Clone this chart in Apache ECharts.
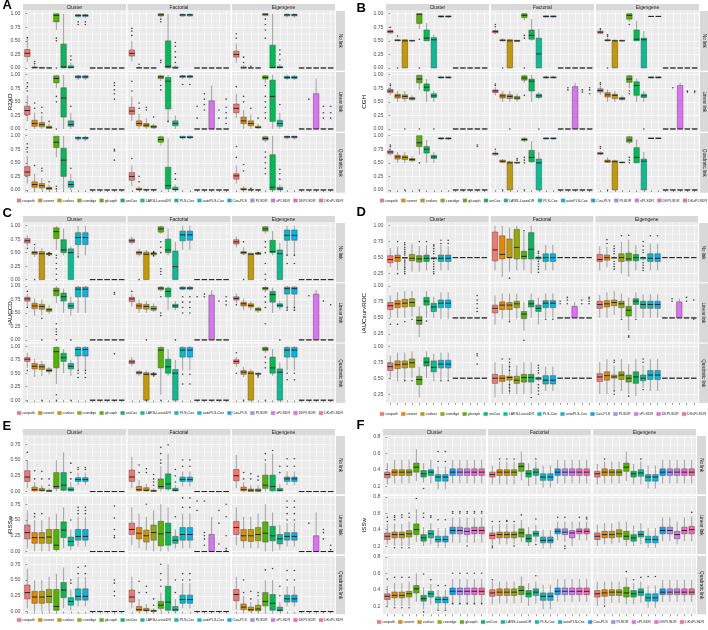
<!DOCTYPE html>
<html>
<head>
<meta charset="utf-8">
<script src="https://cdn.jsdelivr.net/npm/echarts@6.0.0/dist/echarts.min.js"></script>
<style>
  html, body { margin: 0; padding: 0; background: #fff; }
  #root { width: 708px; height: 630px; }
</style>
</head>
<body>
<div id="root"></div>
<script>
const methods = ['coxpath', 'coxnet', 'coxlars', 'coxridge', 'glcoxph', 'uniCox', 'LARS-LassoDR', 'PLS-Cox', 'autoPLS-Cox', 'Cox-PLS', 'PLSDR', 'sPLSDR', 'DKPLSDR', 'DKsPLSDR'];
const methodColors = ['#F8766D', '#E38900', '#C49A00', '#99A800', '#53B400', '#00BC56', '#00C094', '#00BFC4', '#00B6EB', '#06A4FF', '#A58AFF', '#DF70F8', '#FB61D7', '#FF66A8'];
const designs = ['Cluster', 'Factorial', 'Eigengene'];
const links = ['No link', 'Linear link', 'Quadratic link'];

const ticksUnit = [0, 0.25, 0.5, 0.75, 1];
const ticksROC = [0.25, 0.5, 0.75, 1];
const ticksRSS = [0, 0.25, 0.5, 0.75];
const ticksISS = [0.2, 0.4, 0.6, 0.8];

// one box per method: [lower whisker, Q1, median, Q3, upper whisker]
// facets: No link (Cluster, Factorial, Eigengene), Linear link (...), Quadratic link (...)
const r2xoBoxes = [
  [[0.11,0.21,0.27,0.34,0.56],[0,0,0.005,0.02,0.05],[0,0,0,0.01,0.02],[0,0,0,0,0.01],[0.7,0.85,0.97,1,1],[0,0,0.02,0.44,1],[0,0,0.01,0.04,0.1],[0.92,0.95,0.97,0.98,1],[0.92,0.95,0.97,0.98,1],[0,0,0,0,0],[0,0,0,0,0],[0,0,0,0,0],[0,0,0,0,0],[0,0,0,0,0]],
  [[0.12,0.22,0.27,0.33,0.5],[0,0,0,0.01,0.03],[0,0,0,0,0.01],[0,0,0,0,0.01],[0.93,0.96,0.98,1,1],[0,0,0.03,0.5,1],[0,0,0,0.02,0.05],[0.94,0.96,0.98,0.99,1],[0.94,0.96,0.98,0.99,1],[0,0,0,0,0],[0,0,0,0,0],[0,0,0,0,0],[0,0,0,0,0],[0,0,0,0,0]],
  [[0.1,0.2,0.25,0.31,0.45],[0,0,0,0.02,0.05],[0,0,0,0,0.01],[0,0,0,0,0.01],[0.95,0.97,0.99,1,1],[0,0,0.01,0.42,1],[0,0,0.01,0.03,0.07],[0.93,0.96,0.98,0.99,1],[0.93,0.96,0.98,0.99,1],[0,0,0,0,0],[0,0,0,0,0],[0,0,0,0,0],[0,0,0,0,0],[0,0,0,0,0]],
  [[0.14,0.26,0.34,0.42,0.62],[0,0.05,0.1,0.16,0.3],[0,0.04,0.08,0.12,0.25],[0,0.01,0.03,0.05,0.1],[0.75,0.85,0.93,0.98,1],[0,0.22,0.57,0.76,1],[0,0.05,0.08,0.15,0.3],[0.9,0.94,0.96,0.98,1],[0.9,0.94,0.96,0.98,1],[0,0,0,0,0],[0,0,0,0,0],[0,0,0,0,0],[0,0,0,0,0],[0,0,0,0,0]],
  [[0.15,0.27,0.33,0.4,0.6],[0,0.06,0.1,0.15,0.28],[0,0.04,0.07,0.1,0.2],[0,0.02,0.04,0.06,0.1],[0.88,0.93,0.96,0.98,1],[0.12,0.37,0.88,0.95,1],[0,0.06,0.1,0.15,0.25],[0.92,0.95,0.97,0.98,1],[0.92,0.95,0.97,0.98,1],[0,0,0,0,0],[0,0,0,0,0],[0,0,0,0.52,0.8],[0,0,0,0,0],[0,0,0,0,0]],
  [[0.2,0.3,0.38,0.46,0.65],[0,0.1,0.15,0.22,0.35],[0,0.06,0.1,0.15,0.27],[0,0.02,0.03,0.05,0.1],[0.85,0.92,0.95,0.98,1],[0,0.14,0.6,0.9,1],[0,0.05,0.1,0.16,0.3],[0.9,0.93,0.95,0.97,1],[0.9,0.93,0.95,0.97,1],[0,0,0,0,0],[0,0,0,0,0],[0,0,0,0.65,0.93],[0,0,0,0,0],[0,0,0,0,0]],
  [[0.12,0.26,0.33,0.43,0.63],[0,0.05,0.1,0.15,0.3],[0,0.04,0.08,0.12,0.22],[0,0.01,0.03,0.05,0.1],[0.6,0.78,0.88,0.99,1],[0,0.25,0.55,0.77,1],[0,0.05,0.1,0.16,0.3],[0.9,0.94,0.96,0.97,1],[0.9,0.94,0.96,0.97,1],[0,0,0,0,0],[0,0,0,0,0],[0,0,0,0,0],[0,0,0,0,0],[0,0,0,0,0]],
  [[0.07,0.18,0.25,0.32,0.45],[0,0,0.01,0.03,0.07],[0,0,0,0.01,0.02],[0,0,0,0.01,0.02],[0.82,0.88,0.93,0.98,1],[0,0.02,0.08,0.42,0.95],[0,0,0.01,0.05,0.1],[0.93,0.96,0.97,0.99,1],[0.93,0.96,0.97,0.99,1],[0,0,0,0,0],[0,0,0,0,0],[0,0,0,0,0],[0,0,0,0,0],[0,0,0,0,0]],
  [[0.12,0.2,0.26,0.3,0.45],[0,0,0.01,0.03,0.07],[0,0,0,0.01,0.02],[0,0,0,0,0.02],[0.88,0.92,0.95,0.98,1],[0,0,0.05,0.65,1],[0,0,0.02,0.05,0.1],[0.93,0.96,0.98,0.99,1],[0.93,0.96,0.98,0.99,1],[0,0,0,0,0],[0,0,0,0,0],[0,0,0,0,0],[0,0,0,0,0],[0,0,0,0,0]]
];
// outliers: [method index, value]
const r2xoOutliers = [
  [[0,0.56],[1,0.08],[1,0.12],[4,0.55],[4,0.5],[4,0],[6,0.15],[6,0.22],[7,0.85],[7,0.8],[8,0.85],[8,0.8]],
  [[0,0.6],[0,0.68],[0,0.73],[1,0.07],[4,0.9],[4,0.85],[4,0.1],[4,0.14],[6,0.1],[6,0.2],[6,0.3],[6,0.4],[6,0.47]],
  [[0,0.55],[0,0.63],[1,0.1],[1,0.2],[2,0.03],[4,0.9],[4,0.8],[4,0.7],[4,0.55],[6,0.15],[6,0.25],[6,0.33]],
  [[0,0.7],[0,0.78],[0,0.85],[1,0.38],[1,0.48],[2,0.3],[2,0.4],[3,0.14],[4,0.6],[4,0.5],[4,0],[6,0.42],[12,0.55],[12,0.65],[12,0.72],[12,0.8],[12,0.85]],
  [[0,0.7],[0,0.88],[1,0.38],[1,0.48],[2,0.35],[2,0.4],[3,0.22],[4,0.8],[4,0.72],[5,0.14],[7,0.82],[8,0.82],[9,0.2],[9,0.42],[10,0.35],[10,0.45],[10,0.55],[10,0.65],[12,0.2],[12,0.35],[13,0.1],[13,0.2],[13,0.3],[13,0.4],[13,0.55]],
  [[0,0.78],[1,0.5],[1,0.6],[2,0.38],[3,0.2],[4,0.8],[4,0.6],[4,0.5],[4,0.4],[4,0.3],[4,0.2],[6,0.45],[10,0.55],[12,0.2],[12,0.3],[12,0.42],[13,0.2],[13,0.3],[13,0.42]],
  [[0,0.7],[0,0.78],[0,0.85],[1,0.45],[2,0.35],[2,0.4],[3,0.15],[4,0.02],[4,0.07],[6,0.4],[12,0.55],[12,0.72],[12,0.75]],
  [[0,0.58],[1,0.15],[1,0.25],[6,0.2],[6,0.3]],
  [[0,0.6],[0,0.8],[1,0.35],[1,0.47],[2,0.03],[4,0.3],[4,0.4],[4,0.5],[4,0.6],[4,0.7],[6,0.2],[6,0.3],[6,0.38]]
];

const cghBoxes = [
  [[0.62,0.65,0.67,0.69,0.72],[0.5,0.5,0.51,0.52,0.53],[0,0,0.5,0.52,0.53],[0.49,0.5,0.5,0.51,0.52],[0.72,0.82,0.99,1,1],[0.5,0.5,0.55,0.7,0.83],[0,0,0.52,0.56,0.62],[0.92,0.94,0.95,0.96,0.97],[0.92,0.94,0.95,0.96,0.97],[0,0,0,0,0],[0,0,0,0,0],[0,0,0,0,0],[0,0,0,0,0],[0,0,0,0,0]],
  [[0.62,0.65,0.67,0.69,0.72],[0.49,0.5,0.51,0.52,0.55],[0,0,0.5,0.52,0.54],[0.48,0.49,0.5,0.51,0.52],[0.88,0.93,0.97,1,1],[0.5,0.53,0.6,0.7,0.9],[0,0,0.26,0.55,0.72],[0.93,0.94,0.95,0.96,0.97],[0.93,0.94,0.95,0.96,0.97],[0,0,0,0,0],[0,0,0,0,0],[0,0,0,0,0],[0,0,0,0,0],[0,0,0,0,0]],
  [[0.62,0.64,0.66,0.68,0.72],[0.49,0.5,0.51,0.52,0.55],[0,0,0.5,0.51,0.53],[0.49,0.5,0.5,0.51,0.52],[0.85,0.9,0.97,1,1],[0.5,0.5,0.53,0.7,0.87],[0,0,0.52,0.55,0.68],[0.94,0.95,0.95,0.95,0.96],[0.94,0.95,0.95,0.95,0.96],[0,0,0,0,0],[0,0,0,0,0],[0,0,0,0,0],[0,0,0,0,0],[0,0,0,0,0]],
  [[0.62,0.67,0.7,0.73,0.78],[0.5,0.57,0.61,0.64,0.7],[0.5,0.56,0.6,0.63,0.7],[0.52,0.54,0.56,0.58,0.62],[0.72,0.85,0.92,0.99,1],[0.5,0.7,0.77,0.83,0.92],[0.5,0.58,0.61,0.65,0.7],[0.93,0.94,0.95,0.96,0.97],[0.93,0.94,0.95,0.96,0.97],[0,0,0,0,0],[0,0,0,0,0],[0,0,0,0,0],[0,0,0,0,0],[0,0,0,0,0]],
  [[0.62,0.67,0.7,0.72,0.77],[0.5,0.57,0.61,0.64,0.7],[0.5,0.56,0.6,0.63,0.7],[0.5,0.55,0.57,0.6,0.65],[0.85,0.9,0.94,0.98,1],[0.5,0.7,0.88,0.92,1],[0.55,0.58,0.61,0.64,0.68],[0.93,0.94,0.95,0.96,0.98],[0.93,0.94,0.95,0.96,0.98],[0,0,0,0,0],[0,0,0,0,0],[0,0,0,0.78,0.85],[0,0,0,0,0],[0,0,0,0,0]],
  [[0.63,0.68,0.71,0.74,0.8],[0.5,0.59,0.63,0.67,0.73],[0.5,0.56,0.62,0.64,0.7],[0.52,0.54,0.56,0.58,0.62],[0.75,0.86,0.92,0.98,1],[0.5,0.62,0.8,0.87,0.93],[0.5,0.58,0.61,0.64,0.7],[0.93,0.94,0.95,0.96,0.97],[0.93,0.94,0.95,0.96,0.97],[0,0,0,0,0],[0,0,0,0,0],[0,0,0,0.8,0.85],[0,0,0,0,0],[0,0,0,0,0]],
  [[0.63,0.67,0.7,0.72,0.78],[0.5,0.57,0.61,0.64,0.7],[0.5,0.56,0.6,0.63,0.7],[0.52,0.54,0.56,0.58,0.62],[0.65,0.8,0.87,1,1],[0.5,0.68,0.75,0.8,0.92],[0.5,0.58,0.61,0.64,0.7],[0.92,0.94,0.95,0.96,0.97],[0.92,0.94,0.95,0.96,0.97],[0,0,0,0,0],[0,0,0,0,0],[0,0,0,0,0],[0,0,0,0,0],[0,0,0,0,0]],
  [[0.63,0.65,0.67,0.68,0.72],[0.49,0.51,0.53,0.55,0.57],[0,0,0.5,0.52,0.54],[0.49,0.5,0.5,0.51,0.52],[0.88,0.91,0.93,0.95,0.98],[0.5,0.52,0.6,0.73,0.9],[0,0,0.5,0.57,0.7],[0.93,0.94,0.95,0.96,0.97],[0.93,0.94,0.95,0.96,0.97],[0,0,0,0,0],[0,0,0,0,0],[0,0,0,0,0],[0,0,0,0,0],[0,0,0,0,0]],
  [[0.64,0.66,0.67,0.69,0.72],[0.5,0.51,0.53,0.55,0.6],[0,0,0.52,0.54,0.56],[0.49,0.5,0.51,0.51,0.52],[0.85,0.88,0.92,0.98,1],[0.5,0.5,0.6,0.78,0.93],[0,0,0.53,0.57,0.7],[0.94,0.95,0.95,0.96,0.96],[0.94,0.95,0.95,0.96,0.96],[0,0,0,0,0],[0,0,0,0,0],[0,0,0,0,0],[0,0,0,0,0],[0,0,0,0,0]]
];
const cghOutliers = [
  [[0,0.75],[1,0.59],[1,0],[4,0.53],[4,0]],
  [[0,0.76],[0,0.8],[1,0],[4,0.55],[4,0.6],[4,0]],
  [[0,0.72],[1,0.58],[1,0.61],[1,0],[4,0.8]],
  [[0,0.8],[0,0.83],[2,0],[4,0],[6,0]],
  [[0,0.8],[0,0.83],[2,0],[4,0.62],[6,0],[10,0.72],[10,0.76],[12,0.68],[12,0.72],[13,0.65],[13,0.72],[13,0.76]],
  [[0,0.82],[0,0.85],[4,0.65],[4,0.7],[6,0],[10,0.76],[12,0.68],[12,0.7],[13,0.68],[13,0.7]],
  [[0,0.8],[0,0.83],[2,0],[4,0.5],[4,0],[12,0.8],[12,0.83]],
  [[0,0.75],[1,0],[3,0.55],[3,0.58],[4,0.5],[4,0.55],[4,0.6],[4,0]],
  [[0,0.77],[0,0.8],[1,0],[4,0.5],[4,0.55],[4,0.6]]
];

const iauccdBoxes = [
  [[0.62,0.68,0.72,0.76,0.82],[0.42,0.47,0.5,0.52,0.6],[0,0,0.48,0.52,0.58],[0.45,0.46,0.48,0.49,0.5],[0.55,0.76,0.89,0.96,1],[0.45,0.5,0.55,0.74,0.95],[0,0,0.5,0.57,0.62],[0.42,0.65,0.78,0.87,1],[0.45,0.65,0.78,0.87,1],[0,0,0,0,0],[0,0,0,0,0],[0,0,0,0,0],[0,0,0,0,0],[0,0,0,0,0]],
  [[0.65,0.69,0.72,0.75,0.8],[0.43,0.47,0.5,0.52,0.57],[0,0,0.47,0.51,0.55],[0.44,0.46,0.48,0.5,0.52],[0.85,0.88,0.94,0.98,1],[0.45,0.5,0.55,0.75,0.95],[0,0,0.24,0.53,0.7],[0.55,0.72,0.83,0.9,1],[0.55,0.73,0.83,0.9,1],[0,0,0,0,0],[0,0,0,0,0],[0,0,0,0,0],[0,0,0,0,0],[0,0,0,0,0]],
  [[0.6,0.66,0.7,0.74,0.8],[0.45,0.48,0.5,0.52,0.6],[0,0,0.47,0.49,0.5],[0.46,0.47,0.48,0.5,0.51],[0.85,0.9,0.94,0.98,1],[0.45,0.5,0.52,0.73,0.9],[0,0,0.48,0.55,0.68],[0.45,0.73,0.82,0.92,1],[0.45,0.73,0.82,0.92,1],[0,0,0,0,0],[0,0,0,0,0],[0,0,0,0,0],[0,0,0,0,0],[0,0,0,0,0]],
  [[0.6,0.72,0.76,0.79,0.85],[0.45,0.58,0.63,0.68,0.77],[0.45,0.57,0.62,0.66,0.75],[0.48,0.53,0.56,0.58,0.65],[0.68,0.82,0.91,0.96,1],[0.5,0.72,0.8,0.87,0.95],[0.45,0.58,0.63,0.68,0.8],[0.5,0.8,0.94,0.98,1],[0.5,0.8,0.94,0.98,1],[0,0,0,0,0],[0,0,0,0,0],[0,0,0,0,0],[0,0,0,0,0],[0,0,0,0,0]],
  [[0.62,0.71,0.76,0.79,0.85],[0.5,0.58,0.63,0.67,0.75],[0.5,0.57,0.62,0.66,0.72],[0.52,0.55,0.58,0.62,0.68],[0.9,0.93,0.96,0.98,1],[0.55,0.8,0.9,0.96,1],[0.55,0.6,0.63,0.66,0.72],[0.92,0.94,0.96,0.98,1],[0.92,0.94,0.96,0.98,1],[0,0,0,0,0],[0,0,0,0,0],[0,0,0,0.83,0.92],[0,0,0,0,0],[0,0,0,0,0]],
  [[0.68,0.74,0.77,0.8,0.86],[0.55,0.63,0.67,0.7,0.77],[0.55,0.61,0.64,0.67,0.72],[0.5,0.54,0.57,0.59,0.62],[0.88,0.93,0.96,0.97,1],[0.5,0.7,0.84,0.9,0.97],[0.55,0.61,0.64,0.67,0.72],[0.55,0.85,0.95,0.98,1],[0.55,0.85,0.95,0.98,1],[0,0,0,0,0],[0,0,0,0,0],[0,0,0,0.85,0.93],[0,0,0,0,0],[0,0,0,0,0]],
  [[0.6,0.72,0.76,0.79,0.88],[0.43,0.58,0.63,0.68,0.77],[0.45,0.57,0.62,0.66,0.73],[0.48,0.53,0.55,0.58,0.62],[0.3,0.6,0.9,0.98,1],[0.5,0.72,0.79,0.87,0.95],[0.45,0.58,0.63,0.68,0.75],[0.55,0.82,0.94,0.98,1],[0.55,0.82,0.94,0.98,1],[0,0,0,0,0],[0,0,0,0,0],[0,0,0,0,0],[0,0,0,0,0],[0,0,0,0,0]],
  [[0.63,0.68,0.71,0.74,0.8],[0.45,0.49,0.51,0.53,0.56],[0,0,0.48,0.51,0.55],[0.45,0.47,0.48,0.5,0.52],[0.1,0.6,0.93,0.98,1],[0.45,0.5,0.62,0.76,0.95],[0,0,0.5,0.57,0.75],[0.55,0.8,0.93,0.98,1],[0.55,0.8,0.93,0.98,1],[0,0,0,0,0],[0,0,0,0,0],[0,0,0,0,0],[0,0,0,0,0],[0,0,0,0,0]],
  [[0.62,0.68,0.72,0.75,0.8],[0.43,0.48,0.52,0.55,0.62],[0,0,0.5,0.53,0.58],[0.46,0.48,0.49,0.5,0.52],[0.88,0.92,0.95,0.98,1],[0.45,0.5,0.6,0.8,0.95],[0,0,0.52,0.58,0.7],[0.55,0.8,0.93,0.98,1],[0.55,0.8,0.93,0.98,1],[0,0,0,0,0],[0,0,0,0,0],[0,0,0,0,0],[0,0,0,0,0],[0,0,0,0,0]]
];
const iauccdOutliers = [
  [[0,0.58],[1,0.65],[1,0],[3,0.45],[3,0.5],[4,0],[4,0.1],[4,0.2],[4,0.3],[4,0.4],[4,0.45],[7,0.42]],
  [[1,0],[3,0.44],[3,0.5],[3,0.52],[4,0.1],[4,0.15],[4,0.2],[4,0.5],[4,0.6],[4,0.7]],
  [[1,0.7],[1,0],[3,0.5],[4,0],[4,0.1],[4,0.3],[4,0.5],[4,0.6],[4,0.7],[7,0.3],[7,0.45],[8,0.3],[8,0.45]],
  [[0,0.9],[0,0.6],[2,0.4],[2,0],[4,0],[4,0.1],[4,0.15],[4,0.2],[4,0.3],[6,0],[12,0.85],[12,0.88]],
  [[0,0.9],[2,0],[4,0.45],[4,0.5],[4,0.8],[6,0],[7,0.5],[7,0.6],[7,0.7],[7,0.8],[8,0.5],[8,0.6],[8,0.7],[8,0.8],[9,0.8],[10,0.8],[10,0.85],[12,0.72],[13,0.65],[13,0.72],[13,0.8]],
  [[0,0.65],[4,0.3],[4,0.6],[4,0.7],[4,0.8],[6,0],[7,0.55],[7,0.6],[8,0.55],[8,0.6],[10,0.82],[12,0.72],[13,0.65]],
  [[0,0.55],[2,0],[4,0.1],[4,0],[6,0],[7,0.42],[7,0.5],[7,0.55],[8,0.42],[8,0.5],[8,0.55],[12,0.86]],
  [[2,0],[3,0.45],[3,0.5],[4,0],[7,0.3],[7,0.48],[8,0.3],[8,0.48]],
  [[0,0.88],[0,0.5],[1,0],[3,0.43],[3,0.46],[4,0],[4,0.6],[4,0.7],[4,0.8],[7,0.38],[7,0.5],[8,0.38],[8,0.5]]
];

const iaucSurvBoxes = [
  [[0.35,0.42,0.47,0.53,0.65],[0.3,0.44,0.5,0.54,0.67],[0.48,0.49,0.5,0.5,0.51],[0.28,0.45,0.49,0.55,0.72],[0.28,0.43,0.48,0.53,0.68],[0.3,0.44,0.49,0.54,0.7],[0.46,0.48,0.49,0.5,0.52],[0.3,0.44,0.49,0.54,0.7],[0.3,0.44,0.49,0.54,0.68],[0.5,0.5,0.5,0.5,0.5],[0.5,0.5,0.5,0.5,0.5],[0.5,0.5,0.5,0.5,0.5],[0.5,0.5,0.5,0.5,0.5],[0.5,0.5,0.5,0.5,0.5]],
  [[0.3,0.45,0.62,0.9,1],[0.2,0.48,0.55,0.84,1],[0.28,0.5,0.5,0.79,0.97],[0.3,0.48,0.66,0.94,1],[0.3,0.48,0.52,0.6,0.9],[0.25,0.48,0.63,0.89,1],[0.45,0.48,0.5,0.51,0.55],[0.3,0.44,0.5,0.56,0.7],[0.3,0.44,0.5,0.56,0.7],[0.5,0.5,0.5,0.5,0.5],[0.5,0.5,0.5,0.5,0.5],[0.5,0.5,0.5,0.5,0.5],[0.5,0.5,0.5,0.5,0.5],[0.5,0.5,0.5,0.5,0.5]],
  [[0.3,0.44,0.47,0.55,0.68],[0.35,0.46,0.5,0.54,0.67],[0.48,0.49,0.5,0.5,0.52],[0.25,0.44,0.5,0.56,0.75],[0.2,0.45,0.48,0.57,0.78],[0.3,0.45,0.5,0.55,0.7],[0.45,0.48,0.5,0.5,0.52],[0.3,0.44,0.49,0.56,0.72],[0.3,0.44,0.49,0.56,0.72],[0.5,0.5,0.5,0.5,0.5],[0.5,0.5,0.5,0.5,0.5],[0.5,0.5,0.5,0.5,0.5],[0.5,0.5,0.5,0.5,0.5],[0.5,0.5,0.5,0.5,0.5]],
  [[0.5,0.63,0.69,0.74,0.85],[0.5,0.66,0.72,0.77,0.9],[0.5,0.67,0.73,0.79,0.92],[0.52,0.68,0.74,0.8,0.92],[0.2,0.4,0.46,0.52,0.68],[0.5,0.7,0.76,0.82,0.92],[0.5,0.6,0.67,0.73,0.83],[0.48,0.66,0.73,0.78,0.9],[0.48,0.66,0.73,0.78,0.9],[0.5,0.5,0.5,0.5,0.5],[0.5,0.5,0.5,0.5,0.5],[0.5,0.5,0.5,0.5,0.5],[0.5,0.5,0.5,0.5,0.5],[0.5,0.5,0.5,0.5,0.5]],
  [[0.4,0.58,0.65,0.7,0.85],[0.48,0.63,0.7,0.75,0.88],[0.45,0.63,0.7,0.74,0.88],[0.48,0.66,0.72,0.76,0.88],[0.3,0.49,0.56,0.6,0.75],[0.5,0.67,0.72,0.77,0.88],[0.4,0.6,0.65,0.7,0.82],[0.5,0.66,0.73,0.77,0.88],[0.5,0.66,0.73,0.77,0.88],[0.5,0.5,0.5,0.5,0.5],[0.5,0.5,0.5,0.5,0.5],[0.5,0.5,0.5,0.68,0.75],[0.5,0.5,0.5,0.5,0.5],[0.5,0.5,0.5,0.5,0.5]],
  [[0.5,0.65,0.71,0.76,0.86],[0.5,0.67,0.72,0.77,0.9],[0.55,0.69,0.74,0.78,0.92],[0.5,0.66,0.72,0.76,0.88],[0.3,0.53,0.62,0.68,0.82],[0.5,0.71,0.76,0.8,0.9],[0.5,0.65,0.71,0.76,0.87],[0.5,0.65,0.71,0.76,0.87],[0.5,0.65,0.71,0.76,0.87],[0.5,0.5,0.5,0.5,0.5],[0.5,0.5,0.5,0.5,0.5],[0.5,0.5,0.5,0.75,0.8],[0.5,0.5,0.5,0.5,0.5],[0.5,0.5,0.5,0.5,0.5]],
  [[0.48,0.62,0.68,0.74,0.85],[0.45,0.65,0.71,0.77,0.9],[0.45,0.66,0.72,0.77,0.9],[0.5,0.67,0.74,0.8,0.92],[0.2,0.4,0.48,0.53,0.68],[0.5,0.69,0.75,0.82,0.92],[0.45,0.6,0.67,0.77,0.88],[0.47,0.66,0.72,0.78,0.9],[0.47,0.66,0.72,0.78,0.9],[0.5,0.5,0.5,0.5,0.5],[0.5,0.5,0.5,0.5,0.5],[0.5,0.5,0.5,0.5,0.5],[0.5,0.5,0.5,0.5,0.5],[0.5,0.5,0.5,0.5,0.5]],
  [[0.2,0.42,0.5,0.56,0.75],[0.25,0.45,0.5,0.54,0.72],[0.25,0.47,0.51,0.53,0.73],[0.25,0.42,0.47,0.53,0.7],[0.25,0.44,0.51,0.56,0.75],[0.25,0.44,0.51,0.56,0.75],[0.45,0.48,0.5,0.51,0.53],[0.3,0.41,0.47,0.54,0.68],[0.3,0.41,0.47,0.54,0.68],[0.5,0.5,0.5,0.5,0.5],[0.5,0.5,0.5,0.5,0.5],[0.5,0.5,0.5,0.5,0.5],[0.5,0.5,0.5,0.5,0.5],[0.5,0.5,0.5,0.5,0.5]],
  [[0.25,0.45,0.52,0.57,0.75],[0.25,0.47,0.54,0.6,0.8],[0.3,0.5,0.52,0.55,0.7],[0.3,0.48,0.55,0.6,0.8],[0.25,0.44,0.5,0.55,0.72],[0.22,0.42,0.52,0.6,0.8],[0.35,0.46,0.5,0.55,0.7],[0.3,0.48,0.55,0.62,0.8],[0.3,0.48,0.55,0.62,0.8],[0.5,0.5,0.5,0.5,0.5],[0.5,0.5,0.5,0.5,0.5],[0.5,0.5,0.5,0.5,0.5],[0.5,0.5,0.5,0.5,0.5],[0.5,0.5,0.5,0.5,0.5]]
];
const iaucSurvOutliers = [
  [[1,0.75],[1,0.25],[2,0.25],[2,0.28],[2,0.31],[2,0.34],[2,0.37],[2,0.4],[2,0.43],[2,0.46],[2,0.54],[2,0.57],[2,0.6],[2,0.63],[2,0.66],[2,0.7],[2,0.73],[4,0.75],[5,0.75],[6,0.25],[6,0.28],[6,0.32],[6,0.36],[6,0.4],[6,0.44],[6,0.56],[6,0.6],[6,0.64],[6,0.68],[6,0.7],[7,0.72],[7,0.77],[8,0.72],[8,0.77]],
  [[2,0.18],[4,0.92],[6,0.27],[6,0.32],[6,0.36],[6,0.4],[6,0.44],[6,0.57],[6,0.6]],
  [[1,0.72],[1,0.78],[2,0.32],[2,0.36],[2,0.4],[2,0.44],[2,0.56],[2,0.6],[2,0.64],[2,0.68],[3,0.84],[4,0.85],[6,0.3],[6,0.34],[6,0.38],[6,0.42],[6,0.58],[6,0.62],[6,0.68],[6,0.75],[7,0.84],[8,0.84]],
  [[0,0.4],[1,0.4],[2,0.44],[3,0.48],[5,0.45],[12,0.6],[12,0.65],[12,0.72],[12,0.78],[12,0.85]],
  [[2,0.44],[4,0.15],[7,0.48],[8,0.48],[9,0.72],[9,0.76],[10,0.72],[10,0.78],[10,0.82],[12,0.72],[12,0.78],[13,0.72],[13,0.76],[13,0.8],[13,0.82]],
  [[3,0.48],[4,0.2],[4,0.22],[5,0.48],[10,0.76],[10,0.8],[12,0.76],[12,0.82],[13,0.78],[13,0.48]],
  [[2,0.46],[3,0.46],[7,0.46],[8,0.46],[12,0.72],[12,0.85],[12,0.88]],
  [[1,0.8],[2,0.3],[2,0.35],[2,0.4],[2,0.62],[2,0.68],[2,0.75],[2,0.8],[5,0.2],[6,0.25],[6,0.3],[6,0.35],[6,0.4],[6,0.58],[6,0.62],[6,0.66],[6,0.7]],
  [[2,0.25],[2,0.3],[2,0.75],[2,0.78],[4,0.22],[6,0.32],[6,0.75],[6,0.8]]
];

const irsswBoxes = [
  [[0.05,0.16,0.23,0.33,0.5],[0,0.01,0.03,0.07,0.15],[0,0.01,0.02,0.05,0.1],[0,0,0.01,0.02,0.05],[0,0.05,0.08,0.3,0.5],[0,0.02,0.1,0.3,0.62],[0,0.01,0.03,0.06,0.15],[0.1,0.16,0.19,0.22,0.3],[0.1,0.16,0.19,0.22,0.3],[0,0,0,0,0],[0,0,0,0,0],[0,0,0,0,0],[0,0,0,0,0],[0,0,0,0,0]],
  [[0.05,0.16,0.23,0.34,0.55],[0,0.01,0.03,0.08,0.18],[0,0.01,0.02,0.06,0.12],[0,0,0.01,0.02,0.05],[0,0.05,0.08,0.2,0.4],[0,0.04,0.12,0.28,0.6],[0,0.01,0.02,0.05,0.1],[0.08,0.16,0.19,0.23,0.32],[0.08,0.16,0.19,0.23,0.32],[0,0,0,0,0],[0,0,0,0,0],[0,0,0,0,0],[0,0,0,0,0],[0,0,0,0,0]],
  [[0.05,0.17,0.25,0.35,0.58],[0,0.01,0.03,0.07,0.15],[0,0,0.02,0.04,0.1],[0,0,0.02,0.04,0.1],[0,0.05,0.1,0.26,0.45],[0,0.01,0.08,0.26,0.6],[0,0.01,0.02,0.05,0.12],[0.1,0.16,0.2,0.23,0.32],[0.1,0.16,0.2,0.23,0.32],[0,0,0,0,0],[0,0,0,0,0],[0,0,0,0,0],[0,0,0,0,0],[0,0,0,0,0]],
  [[0.05,0.2,0.3,0.42,0.65],[0,0.13,0.22,0.3,0.5],[0,0.13,0.22,0.3,0.5],[0,0.13,0.23,0.35,0.55],[0,0.03,0.1,0.35,0.6],[0.05,0.22,0.34,0.47,0.7],[0.02,0.09,0.16,0.23,0.35],[0.08,0.18,0.24,0.35,0.55],[0.08,0.18,0.24,0.35,0.55],[0,0,0,0,0],[0,0,0,0,0],[0,0,0,0,0],[0,0,0,0,0],[0,0,0,0,0]],
  [[0.1,0.27,0.35,0.45,0.7],[0.05,0.2,0.29,0.38,0.6],[0.02,0.15,0.25,0.34,0.55],[0,0.18,0.3,0.42,0.65],[0,0.09,0.28,0.48,0.75],[0,0.1,0.3,0.45,0.7],[0.05,0.13,0.18,0.24,0.35],[0.05,0.18,0.27,0.38,0.6],[0.05,0.18,0.27,0.38,0.6],[0,0,0,0,0],[0,0,0,0,0],[0,0,0,0.27,0.55],[0,0,0,0,0],[0,0,0,0,0]],
  [[0.1,0.27,0.38,0.48,0.7],[0.05,0.17,0.25,0.35,0.55],[0.05,0.16,0.25,0.35,0.55],[0.05,0.17,0.27,0.38,0.6],[0,0.15,0.29,0.47,0.75],[0,0.17,0.25,0.4,0.62],[0.03,0.12,0.2,0.27,0.42],[0.08,0.18,0.24,0.3,0.45],[0.08,0.18,0.24,0.3,0.45],[0,0,0,0,0],[0,0,0,0,0],[0,0,0,0.25,0.62],[0,0,0,0,0],[0,0,0,0,0]],
  [[0.05,0.2,0.3,0.42,0.68],[0,0.13,0.23,0.32,0.5],[0,0.13,0.23,0.32,0.5],[0,0.14,0.24,0.35,0.55],[0,0.02,0.08,0.35,0.6],[0.05,0.22,0.34,0.46,0.7],[0.02,0.1,0.16,0.22,0.35],[0.08,0.18,0.24,0.36,0.55],[0.08,0.18,0.24,0.36,0.55],[0,0,0,0,0],[0,0,0,0,0],[0,0,0,0,0],[0,0,0,0,0],[0,0,0,0,0]],
  [[0.05,0.15,0.23,0.34,0.55],[0,0.01,0.03,0.08,0.2],[0,0.01,0.02,0.05,0.12],[0,0,0.01,0.02,0.05],[0,0.05,0.1,0.16,0.3],[0,0.02,0.15,0.4,0.75],[0,0.01,0.03,0.08,0.2],[0.05,0.13,0.19,0.26,0.45],[0.05,0.13,0.19,0.26,0.45],[0,0,0,0,0],[0,0,0,0,0],[0,0,0,0,0],[0,0,0,0,0],[0,0,0,0,0]],
  [[0.03,0.17,0.27,0.35,0.55],[0,0.03,0.07,0.12,0.25],[0,0.01,0.03,0.07,0.15],[0,0.01,0.04,0.1,0.2],[0,0.09,0.16,0.3,0.5],[0,0.02,0.13,0.27,0.5],[0,0.01,0.02,0.07,0.15],[0.08,0.15,0.2,0.26,0.4],[0.08,0.15,0.2,0.26,0.4],[0,0,0,0,0],[0,0,0,0,0],[0,0,0,0,0],[0,0,0,0,0],[0,0,0,0,0]]
];
const irsswOutliers = [
  [[0,0.62],[1,0.2],[1,0.33],[2,0.2],[2,0.32],[3,0.1],[3,0.2],[6,0.2],[6,0.3],[6,0.45],[7,0.35],[7,0.38],[8,0.35],[8,0.38]],
  [[1,0.3],[1,0.42],[2,0.3],[2,0.36],[3,0.1],[3,0.15],[3,0.2],[3,0.27],[4,0.45],[4,0.5],[4,0.6],[4,0.7],[5,0.74],[6,0.15],[6,0.25],[6,0.35],[7,0.4],[7,0.5],[8,0.4],[8,0.5]],
  [[1,0.2],[1,0.3],[2,0.2],[2,0.28],[3,0.18],[3,0.24],[4,0.5],[4,0.6],[5,0.65],[6,0.3],[6,0.4],[7,0.4],[7,0.52],[8,0.4],[8,0.52]],
  [[1,0.55],[1,0.6],[2,0.6],[6,0.5],[7,0.6],[7,0.65],[7,0.7],[8,0.6],[8,0.65],[8,0.7],[12,0.22],[12,0.25],[12,0.35],[12,0.53],[12,0.72]],
  [[2,0.75],[6,0.55],[7,0.7],[7,0.85],[8,0.7],[8,0.85],[9,0.65],[9,0.8],[10,0.1],[10,0.2],[10,0.25],[10,0.3],[10,0.8],[12,0.12],[12,0.45],[12,0.65],[13,0.02],[13,0.05],[13,0.25],[13,0.55],[13,0.75]],
  [[7,0.5],[7,0.6],[7,0.7],[7,0.8],[8,0.5],[8,0.6],[8,0.7],[8,0.8],[10,0.45],[12,0.2],[12,0.3],[12,0.35],[13,0.03],[13,0.1]],
  [[6,0.45],[6,0.5],[7,0.6],[7,0.7],[8,0.6],[8,0.72],[12,0.25],[12,0.32],[12,0.45],[12,0.5]],
  [[1,0.3],[1,0.48],[2,0.3],[2,0.4],[3,0.1],[3,0.2],[4,0.4],[4,0.5],[4,0.6],[4,0.75],[6,0.3],[6,0.5],[7,0.5],[7,0.6],[8,0.5],[8,0.6]],
  [[1,0.3],[1,0.5],[2,0.2],[2,0.32],[3,0.25],[3,0.3],[4,0.66],[5,0.68],[6,0.25],[6,0.4],[7,0.5],[7,0.65],[8,0.5],[8,0.65]]
];

const isswBoxes = [
  [[0.22,0.3,0.34,0.37,0.48],[0.23,0.33,0.37,0.4,0.52],[0.23,0.33,0.37,0.4,0.52],[0.23,0.33,0.37,0.4,0.52],[0.26,0.37,0.43,0.48,0.65],[0.24,0.31,0.35,0.39,0.48],[0.23,0.33,0.37,0.4,0.52],[0.16,0.26,0.31,0.34,0.44],[0.16,0.26,0.31,0.34,0.44],[0.23,0.33,0.37,0.41,0.52],[0.23,0.33,0.37,0.41,0.52],[0.23,0.33,0.37,0.41,0.52],[0.23,0.33,0.37,0.41,0.52],[0.23,0.33,0.37,0.41,0.52]],
  [[0.22,0.31,0.34,0.37,0.45],[0.22,0.33,0.37,0.4,0.5],[0.22,0.33,0.37,0.4,0.5],[0.22,0.33,0.37,0.4,0.5],[0.27,0.38,0.44,0.48,0.62],[0.2,0.31,0.35,0.39,0.48],[0.22,0.33,0.37,0.41,0.5],[0.18,0.27,0.31,0.35,0.45],[0.18,0.27,0.31,0.35,0.45],[0.23,0.33,0.37,0.41,0.52],[0.23,0.33,0.37,0.41,0.52],[0.23,0.33,0.37,0.41,0.52],[0.23,0.33,0.37,0.41,0.52],[0.23,0.33,0.37,0.41,0.52]],
  [[0.22,0.31,0.35,0.38,0.47],[0.23,0.33,0.37,0.41,0.5],[0.23,0.33,0.37,0.4,0.5],[0.23,0.33,0.37,0.4,0.5],[0.26,0.38,0.43,0.48,0.62],[0.22,0.31,0.35,0.38,0.47],[0.22,0.32,0.36,0.4,0.5],[0.17,0.26,0.31,0.34,0.45],[0.17,0.26,0.31,0.34,0.45],[0.23,0.33,0.37,0.41,0.52],[0.23,0.33,0.37,0.41,0.52],[0.23,0.33,0.37,0.41,0.52],[0.23,0.33,0.37,0.41,0.52],[0.23,0.33,0.37,0.41,0.52]],
  [[0.22,0.28,0.32,0.36,0.47],[0.2,0.3,0.34,0.37,0.47],[0.2,0.3,0.34,0.37,0.47],[0.2,0.31,0.35,0.39,0.5],[0.25,0.34,0.4,0.47,0.65],[0.2,0.26,0.3,0.34,0.43],[0.22,0.3,0.35,0.39,0.48],[0.18,0.25,0.28,0.32,0.42],[0.18,0.25,0.28,0.32,0.42],[0.24,0.35,0.39,0.43,0.55],[0.24,0.35,0.39,0.43,0.55],[0.24,0.34,0.38,0.42,0.55],[0.24,0.35,0.39,0.43,0.55],[0.24,0.35,0.39,0.43,0.55]],
  [[0.22,0.29,0.33,0.36,0.45],[0.22,0.3,0.34,0.37,0.47],[0.22,0.3,0.34,0.37,0.47],[0.22,0.3,0.34,0.37,0.47],[0.25,0.31,0.36,0.41,0.52],[0.2,0.25,0.29,0.34,0.43],[0.25,0.32,0.35,0.38,0.46],[0.17,0.24,0.27,0.31,0.4],[0.17,0.24,0.27,0.31,0.4],[0.27,0.35,0.38,0.41,0.5],[0.25,0.34,0.37,0.41,0.5],[0.2,0.3,0.36,0.39,0.5],[0.27,0.35,0.38,0.41,0.5],[0.27,0.35,0.38,0.41,0.5]],
  [[0.2,0.28,0.32,0.36,0.46],[0.22,0.3,0.34,0.38,0.48],[0.22,0.3,0.34,0.38,0.48],[0.24,0.31,0.35,0.4,0.5],[0.2,0.28,0.32,0.38,0.5],[0.2,0.26,0.3,0.34,0.45],[0.22,0.31,0.34,0.38,0.48],[0.18,0.24,0.28,0.32,0.42],[0.18,0.24,0.28,0.32,0.42],[0.26,0.35,0.39,0.43,0.55],[0.26,0.35,0.39,0.43,0.55],[0.22,0.29,0.34,0.38,0.5],[0.26,0.35,0.39,0.43,0.55],[0.26,0.35,0.4,0.44,0.56]],
  [[0.18,0.28,0.32,0.35,0.45],[0.2,0.3,0.33,0.37,0.48],[0.2,0.3,0.33,0.37,0.48],[0.2,0.31,0.35,0.38,0.5],[0.25,0.36,0.41,0.45,0.6],[0.16,0.26,0.29,0.33,0.43],[0.22,0.31,0.35,0.38,0.47],[0.16,0.24,0.28,0.31,0.4],[0.16,0.24,0.28,0.31,0.4],[0.22,0.34,0.38,0.42,0.53],[0.22,0.34,0.38,0.42,0.53],[0.22,0.34,0.38,0.42,0.53],[0.22,0.34,0.38,0.42,0.53],[0.22,0.34,0.38,0.42,0.53]],
  [[0.22,0.32,0.36,0.4,0.5],[0.23,0.33,0.37,0.41,0.5],[0.23,0.33,0.37,0.41,0.5],[0.23,0.33,0.37,0.41,0.5],[0.24,0.34,0.39,0.44,0.56],[0.2,0.31,0.35,0.39,0.48],[0.23,0.33,0.37,0.41,0.5],[0.16,0.27,0.32,0.36,0.46],[0.16,0.27,0.32,0.36,0.46],[0.25,0.34,0.38,0.42,0.53],[0.25,0.34,0.38,0.42,0.53],[0.25,0.34,0.38,0.42,0.53],[0.25,0.34,0.38,0.42,0.53],[0.25,0.34,0.38,0.42,0.53]],
  [[0.2,0.31,0.35,0.39,0.5],[0.22,0.32,0.36,0.4,0.5],[0.24,0.33,0.37,0.4,0.5],[0.24,0.33,0.37,0.4,0.5],[0.22,0.31,0.36,0.43,0.55],[0.22,0.31,0.35,0.39,0.48],[0.24,0.33,0.37,0.41,0.5],[0.18,0.26,0.3,0.35,0.45],[0.18,0.26,0.3,0.35,0.45],[0.25,0.34,0.37,0.41,0.52],[0.25,0.34,0.37,0.41,0.52],[0.25,0.34,0.37,0.41,0.52],[0.25,0.34,0.37,0.41,0.52],[0.25,0.34,0.37,0.41,0.52]]
];
const isswOutliers = [
  [[5,0.17],[7,0.5],[7,0.62],[8,0.5],[8,0.62]],
  [[1,0.53],[2,0.53],[3,0.53],[6,0.53]],
  [[1,0.53],[6,0.53]],
  [[0,0.5],[0,0.55],[1,0.52],[1,0.55],[1,0.57],[1,0.18],[2,0.55],[2,0.58],[2,0.18],[3,0.55],[3,0.6],[3,0.18],[4,0.78],[5,0.6],[5,0.55],[6,0.55],[6,0.57],[7,0.52],[8,0.52],[9,0.6],[9,0.62],[10,0.6],[10,0.62],[11,0.6],[11,0.62],[11,0.2],[12,0.6],[12,0.62],[13,0.6],[13,0.62]],
  [[0,0.18],[0,0.2],[0,0.5],[1,0.5],[2,0.5],[2,0.51],[3,0.2],[3,0.5],[4,0.58],[6,0.53],[6,0.22],[9,0.55],[10,0.55],[10,0.2],[10,0.17],[12,0.55],[13,0.55],[13,0.53]],
  [[13,0.61]],
  [[0,0.53],[1,0.55],[1,0.18],[2,0.55],[2,0.18],[3,0.55],[3,0.18],[5,0.59],[5,0.13],[6,0.52],[7,0.45],[7,0.15],[8,0.45],[8,0.15],[9,0.6],[9,0.23],[10,0.6],[10,0.23],[11,0.6],[11,0.23],[12,0.6],[12,0.23],[13,0.6],[13,0.23]],
  [[0,0.52],[6,0.57]],
  [[1,0.2],[4,0.62],[5,0.52],[6,0.55],[7,0.56],[8,0.56]]
];

const FONT = 'Liberation Sans';
const panels = [
  { tag: 'A', yName: 'R2XO', boxes: r2xoBoxes, outliers: r2xoOutliers, x0: 0, left: 23, top: 11, fw: 103, fg: 1.5, rh: 59.7, rg: 1.3, min: -0.05, max: 1.05, major: ticksUnit, minor: [0.125, 0.375, 0.625, 0.875], dec: 2, tagY: -1.5, legY: 200.5 },
  { tag: 'B', yName: 'CGH', boxes: cghBoxes, outliers: cghOutliers, x0: 354, left: 386, top: 11, fw: 103, fg: 2, rh: 59.7, rg: 1.3, min: -0.05, max: 1.05, major: ticksUnit, minor: [0.125, 0.375, 0.625, 0.875], dec: 2, tagY: 1.5, legY: 200.5 },
  { tag: 'C', yName: 'iAUCCD', boxes: iauccdBoxes, outliers: iauccdOutliers, x0: 0, left: 23, top: 223, fw: 103, fg: 1.5, rh: 59.3, rg: 1, min: -0.05, max: 1.05, major: ticksUnit, minor: [0.125, 0.375, 0.625, 0.875], dec: 2, tagY: 206.5, legY: 413 },
  { tag: 'D', yName: 'iAUCsurvROC', boxes: iaucSurvBoxes, outliers: iaucSurvOutliers, x0: 354, left: 386, top: 223, fw: 102.7, fg: 2, rh: 59.3, rg: 1, min: 0.115, max: 1.04, major: ticksROC, minor: [0.125, 0.375, 0.625, 0.875], dec: 2, tagY: 205.5, legY: 414 },
  { tag: 'E', yName: 'iRSSw', boxes: irsswBoxes, outliers: irsswOutliers, x0: 0, left: 23, top: 436, fw: 103, fg: 1.5, rh: 58.3, rg: 1.7, min: -0.044, max: 0.88, major: ticksRSS, minor: [0.125, 0.375, 0.625, 0.875], dec: 2, tagY: 419.5, legY: 620 },
  { tag: 'F', yName: 'ISSw', boxes: isswBoxes, outliers: isswOutliers, x0: 354, left: 383, top: 436, fw: 103, fg: 2, rh: 58.3, rg: 1.7, min: 0.1, max: 0.81, major: ticksISS, minor: [0.3, 0.5, 0.7], dec: 1, tagY: 418.5, legY: 622 }
];

const methodPos = methods.map((m, i) => i);
const BORDER = '#4d4d4d';

const renderBox = (params, api) => {
  const i = api.value(0);
  const lo = api.coord([i, api.value(1)]);
  const q1 = api.coord([i, api.value(2)]);
  const md = api.coord([i, api.value(3)]);
  const q3 = api.coord([i, api.value(4)]);
  const hi = api.coord([i, api.value(5)]);
  const half = api.size([0.75, 0])[0] / 2;
  const x = md[0];
  return {
    type: 'group',
    children: [
      { type: 'line', shape: { x1: x, y1: lo[1], x2: x, y2: q1[1] }, style: { stroke: BORDER, lineWidth: 0.5 } },
      { type: 'line', shape: { x1: x, y1: q3[1], x2: x, y2: hi[1] }, style: { stroke: BORDER, lineWidth: 0.5 } },
      { type: 'rect', shape: { x: x - half, y: q3[1], width: half * 2, height: q1[1] - q3[1] }, style: { fill: methodColors[i], stroke: BORDER, lineWidth: 0.5 } },
      { type: 'line', shape: { x1: x - half, y1: md[1], x2: x + half, y2: md[1] }, style: { stroke: '#1a1a1a', lineWidth: 0.9 } }
    ]
  };
};

// legend text widths
const LEG_FS = 3.6;
const measure = document.createElement('canvas').getContext('2d');
measure.font = `${LEG_FS}px "${FONT}"`;
const legendWidths = methods.map(m => measure.measureText(m).width);

const grids = [], xAxes = [], yAxes = [], series = [], graphics = [];

panels.forEach(p => {
  const plotRight = p.left + 3 * p.fw + 2 * p.fg;
  for (let r = 0; r < 3; r++) {
    for (let c = 0; c < 3; c++) {
      const g = grids.length;
      const facet = r * 3 + c;
      grids.push({
        left: p.left + c * (p.fw + p.fg), top: p.top + r * (p.rh + p.rg),
        width: p.fw, height: p.rh, show: true, backgroundColor: '#EBEBEB', borderWidth: 0,
        outerBoundsMode: 'none', containLabel: false
      });
      xAxes.push({
        gridIndex: g, type: 'value', min: -0.6, max: 13.6,
        axisLine: { show: false }, axisLabel: { show: false },
        axisTick: { show: r === 2, customValues: methodPos, length: 2, lineStyle: { color: '#333', width: 0.5 } },
        splitLine: { show: true, lineStyle: { color: '#fff', width: 0.6 } }
      });
      yAxes.push({
        gridIndex: g, type: 'value', min: p.min, max: p.max,
        axisLine: { show: false },
        axisTick: { show: c === 0, customValues: p.major, length: 2, lineStyle: { color: '#333', width: 0.5 } },
        axisLabel: { show: c === 0, customValues: p.major, formatter: v => v.toFixed(p.dec), fontSize: 5.2, color: '#4D4D4D', margin: 2.5, fontFamily: FONT },
        splitLine: { show: true, lineStyle: { color: '#fff', width: 0.7 } }
      });
      yAxes.push({
        gridIndex: g, type: 'value', min: p.min, max: p.max,
        axisLine: { show: false }, axisLabel: { show: false },
        axisTick: { show: false, customValues: p.minor },
        splitLine: { show: true, lineStyle: { color: '#fff', width: 0.35 } }
      });
      series.push({
        type: 'custom', xAxisIndex: g, yAxisIndex: 2 * g, silent: true, z: 3,
        renderItem: renderBox,
        data: p.boxes[facet].map((b, i) => [i, ...b])
      });
      series.push({
        type: 'scatter', xAxisIndex: g, yAxisIndex: 2 * g, silent: true, z: 4,
        symbolSize: 1.6, itemStyle: { color: '#111' },
        data: p.outliers[facet]
      });
    }
    // row strip on the right
    const ry = p.top + r * (p.rh + p.rg);
    graphics.push({ type: 'rect', silent: true, shape: { x: plotRight + 1, y: ry, width: 9, height: p.rh }, style: { fill: '#D9D9D9' } });
    graphics.push({ type: 'text', silent: true, x: plotRight + 5.5, y: ry + p.rh / 2, rotation: -Math.PI / 2,
      style: { text: links[r], fill: '#1A1A1A', fontSize: 4.6, fontFamily: FONT, align: 'center', verticalAlign: 'middle' } });
  }
  // column strips
  designs.forEach((d, c) => {
    const x = p.left + c * (p.fw + p.fg);
    graphics.push({ type: 'rect', silent: true, shape: { x: x, y: p.top - 7, width: p.fw, height: 6.5 }, style: { fill: '#D9D9D9' } });
    graphics.push({ type: 'text', silent: true, x: x + p.fw / 2, y: p.top - 3.7,
      style: { text: d, fill: '#1A1A1A', fontSize: 4.9, fontFamily: FONT, align: 'center', verticalAlign: 'middle' } });
  });
  // y axis title
  graphics.push({ type: 'text', silent: true, x: p.x0 + 10.5, y: p.top + 1.5 * p.rh + p.rg, rotation: Math.PI / 2,
    style: { text: p.yName, fill: '#000', fontSize: 6.2, fontFamily: FONT, align: 'center', verticalAlign: 'middle' } });
  // panel tag
  graphics.push({ type: 'text', silent: true, x: p.x0 + 2.5, y: p.tagY,
    style: { text: p.tag, fill: '#000', fontSize: 13, fontWeight: 'bold', fontFamily: FONT, verticalAlign: 'top' } });
  // legend
  const lx0 = p.left - 6, lx1 = plotRight + 8;
  const iconW = 4, tGap = 1.2;
  const used = legendWidths.reduce((s, w) => s + iconW + tGap + w, 0);
  const gap = (lx1 - lx0 - used) / (methods.length - 1);
  let lx = lx0;
  methods.forEach((m, i) => {
    graphics.push({ type: 'rect', silent: true, shape: { x: lx, y: p.legY - 1.7, width: iconW, height: 3.4 },
      style: { fill: methodColors[i], stroke: '#999', lineWidth: 0.3 } });
    graphics.push({ type: 'text', silent: true, x: lx + iconW + tGap, y: p.legY,
      style: { text: m, fill: '#1A1A1A', fontSize: LEG_FS, fontFamily: FONT, verticalAlign: 'middle' } });
    lx += iconW + tGap + legendWidths[i] + gap;
  });
});

const chart = echarts.init(document.getElementById('root'));
chart.setOption({
  animation: false,
  backgroundColor: '#fff',
  textStyle: { fontFamily: FONT },
  grid: grids,
  xAxis: xAxes,
  yAxis: yAxes,
  series: series,
  graphic: graphics
});

window.onresize = () => chart.resize();
</script>
</body>
</html>
